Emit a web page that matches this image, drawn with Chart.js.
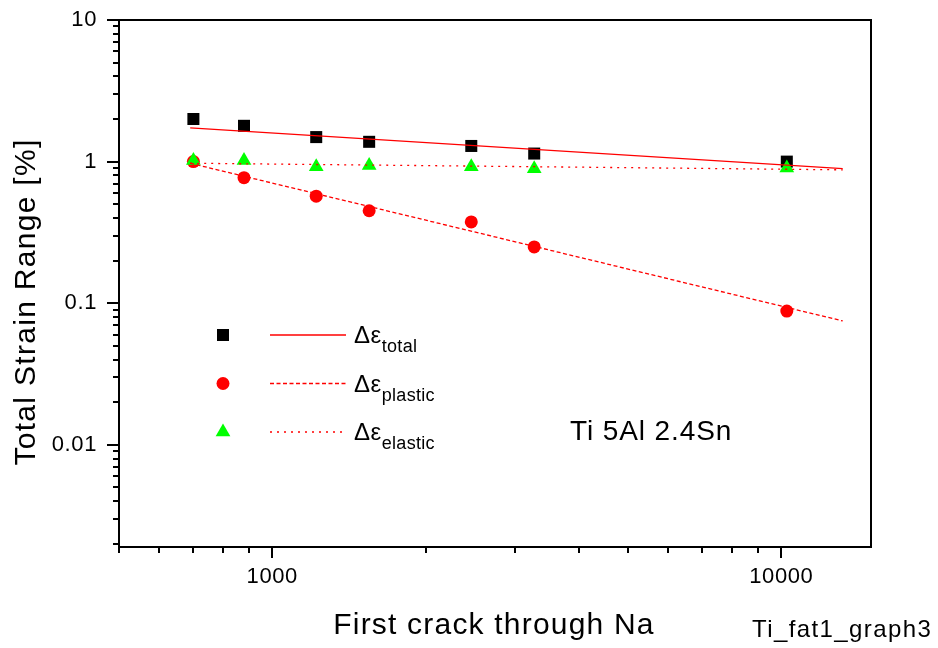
<!DOCTYPE html>
<html>
<head>
<meta charset="utf-8">
<script src="https://cdn.jsdelivr.net/npm/chart.js@4.4.0/dist/chart.umd.min.js"></script>
<style>
  html, body { margin: 0; padding: 0; background: #fff; }
  #wrap { width: 938px; height: 648px; }
</style>
</head>
<body>
<div id="wrap"><canvas id="strainChart" width="938" height="648"></canvas></div>
<script>
// cycles to first through-crack
const cycles = [700, 880, 1220, 1550, 2460, 3270, 10250];
// strain ranges in %
const totalStrain = [2.0, 1.79, 1.49, 1.38, 1.29, 1.14, 1.0];
const plasticStrain = [1.0, 0.77, 0.57, 0.45, 0.375, 0.25, 0.088];
const elasticStrain = [1.02, 1.02, 0.92, 0.94, 0.92, 0.89, 0.90];

// power-law fits (straight on log-log), given by their end points
const fitCycles = [690, 13200];
const totalFit = [1.73, 0.892];
const plasticFit = [0.974, 0.075];
const elasticFit = [0.974, 0.875];

const xRange = [500, 15000];
const yRange = [0.0019, 10];
const xTickLabels = [1000, 10000];
const yTickLabels = [0.01, 0.1, 1, 10];

const FONT = '"Liberation Sans", Arial, Helvetica, sans-serif';

const toPoints = (xs, ys) => xs.map((x, i) => ({ x: x, y: ys[i] }));

function drawText(ctx, str, x, y, size, align, spacing) {
  ctx.font = size + 'px ' + FONT;
  ctx.textAlign = align || 'left';
  ctx.letterSpacing = (spacing || 0) + 'px';
  ctx.fillText(str, x, y);
  ctx.letterSpacing = '0px';
}

// 1..9 x 10^n inside a range
function logTicks(min, max) {
  const out = [];
  for (let e = Math.floor(Math.log10(min)); e <= Math.ceil(Math.log10(max)); e++) {
    for (let m = 1; m <= 9; m++) {
      const v = m * Math.pow(10, e);
      if (v >= min * 0.999 && v <= max * 1.001) out.push({ v: v, major: m === 1 });
    }
  }
  return out;
}

// box, ticks, labels and titles
const axesBox = {
  id: 'axesBox',
  afterDatasetsDraw(chart) {
    const ctx = chart.ctx;
    const a = chart.chartArea;
    const xs = chart.scales.x, ys = chart.scales.y;
    ctx.save();
    ctx.strokeStyle = '#000';
    ctx.fillStyle = '#000';
    ctx.lineWidth = 2;
    ctx.strokeRect(a.left, a.top, a.right - a.left, a.bottom - a.top);

    ctx.beginPath();
    logTicks(xRange[0], xRange[1]).forEach(t => {
      const px = Math.round(xs.getPixelForValue(t.v));
      ctx.moveTo(px, a.bottom);
      ctx.lineTo(px, a.bottom + (t.major ? 11 : 6));
    });
    logTicks(yRange[0], yRange[1]).forEach(t => {
      const py = Math.round(ys.getPixelForValue(t.v));
      ctx.moveTo(a.left, py);
      ctx.lineTo(a.left - (t.major ? 12 : 6), py);
    });
    ctx.stroke();

    ctx.textBaseline = 'middle';
    xTickLabels.forEach(v => drawText(ctx, String(v), xs.getPixelForValue(v), 577, 22, 'center', 0.6));
    yTickLabels.forEach(v => drawText(ctx, String(v), 97, ys.getPixelForValue(v), 22, 'right', 0.6));

    ctx.textBaseline = 'alphabetic';
    drawText(ctx, 'First crack through Na', 494, 634, 30, 'center', 1.2);
    drawText(ctx, 'Ti_fat1_graph3', 752, 637, 24, 'left', 1.4);
    drawText(ctx, 'Ti 5Al 2.4Sn', 570, 440, 28, 'left', 0.9);

    ctx.save();
    ctx.translate(35, 302);
    ctx.rotate(-Math.PI / 2);
    drawText(ctx, 'Total Strain Range [%]', 0, 0, 30, 'center', 1.3);
    ctx.restore();
    ctx.restore();
  }
};

// symbol / line / label rows inside the plot
const legendRows = [
  { sub: 'total', style: 'rect', radius: 8.5, color: '#000000', dash: [] },
  { sub: 'plastic', style: 'circle', radius: 6.5, color: '#ff0000', dash: [4, 2.5] },
  { sub: 'elastic', style: 'triangle', radius: 8.5, color: '#00ff00', dash: [2, 5] }
];

const keyBox = {
  id: 'keyBox',
  afterDraw(chart) {
    const ctx = chart.ctx;
    ctx.save();
    legendRows.forEach((row, i) => {
      const y = 335 + i * 48.5;
      ctx.fillStyle = row.color;
      Chart.helpers.drawPoint(ctx, { pointStyle: row.style, radius: row.radius, rotation: 0, borderWidth: 0 }, 223, y);
      ctx.strokeStyle = '#ff0000';
      ctx.lineWidth = 1.3;
      ctx.setLineDash(row.dash);
      ctx.beginPath();
      ctx.moveTo(270, y);
      ctx.lineTo(346, y);
      ctx.stroke();
      ctx.setLineDash([]);
      ctx.fillStyle = '#000';
      ctx.textBaseline = 'alphabetic';
      drawText(ctx, '\u0394\u03b5', 354, y + 8, 24, 'left', 0.5);
      ctx.font = '24px ' + FONT;
      const w = ctx.measureText('\u0394\u03b5').width + 1;
      drawText(ctx, row.sub, 354 + w, y + 17, 18, 'left', 0.3);
    });
    ctx.restore();
  }
};

const lineSet = (label, ys, dash) => ({
  label: label,
  data: toPoints(fitCycles, ys),
  showLine: true,
  borderColor: '#ff0000',
  borderWidth: 1.3,
  borderDash: dash,
  pointRadius: 0,
  fill: false
});

const markSet = (label, ys, style, radius, color) => ({
  label: label,
  data: toPoints(cycles, ys),
  showLine: false,
  pointStyle: style,
  pointRadius: radius,
  pointHoverRadius: radius,
  pointBackgroundColor: color,
  pointBorderWidth: 0,
  backgroundColor: color,
  borderColor: color
});

new Chart(document.getElementById('strainChart'), {
  type: 'scatter',
  data: {
    datasets: [
      lineSet('total fit', totalFit, []),
      lineSet('plastic fit', plasticFit, [4, 2.5]),
      lineSet('elastic fit', elasticFit, [2, 5]),
      markSet('elastic', elasticStrain, 'triangle', 8.5, '#00ff00'),
      markSet('plastic', plasticStrain, 'circle', 6.5, '#ff0000'),
      markSet('total', totalStrain, 'rect', 8.5, '#000000')
    ]
  },
  options: {
    responsive: false,
    devicePixelRatio: 1,
    animation: false,
    events: [],
    layout: { padding: { left: 119, top: 20, right: 67, bottom: 101 } },
    plugins: {
      legend: { display: false },
      tooltip: { enabled: false }
    },
    scales: {
      x: { type: 'logarithmic', min: xRange[0], max: xRange[1], display: false },
      y: { type: 'logarithmic', min: yRange[0], max: yRange[1], display: false }
    }
  },
  plugins: [axesBox, keyBox]
});
</script>
</body>
</html>
